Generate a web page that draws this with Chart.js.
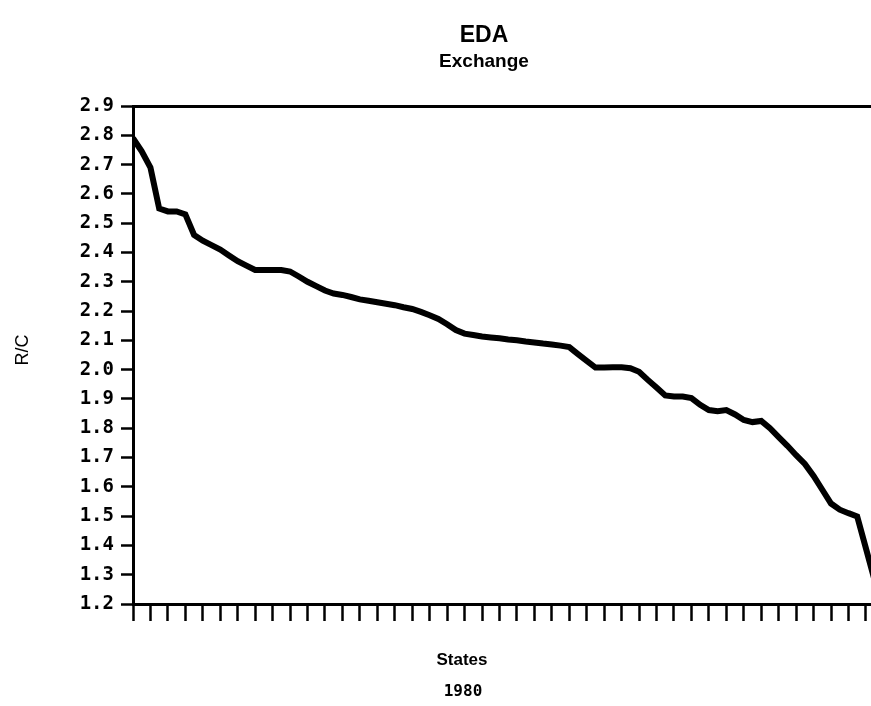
<!DOCTYPE html>
<html lang="en">
<head>
    <meta charset="UTF-8">
    <title>EDA Exchange R/C by State, 1980</title>
    <script src="https://cdn.jsdelivr.net/npm/chart.js"></script>
    <style>
        html, body { margin: 0; padding: 0; background: #fff; }
        canvas { display: block; }
    </style>
</head>
<body>
<canvas id="rcChart" width="871" height="706"></canvas>
<script>
// R/C ratio, states ranked from highest to lowest
const rcValues = [
    2.79, 2.745, 2.69, 2.55, 2.54, 2.54, 2.53, 2.46, 2.44, 2.425,
    2.41, 2.39, 2.37, 2.355, 2.34, 2.34, 2.34, 2.34, 2.335, 2.318,
    2.30, 2.285, 2.27, 2.26, 2.255, 2.248, 2.24, 2.235, 2.23, 2.225,
    2.22, 2.213, 2.207, 2.197, 2.186, 2.173, 2.155, 2.135, 2.123, 2.118,
    2.113, 2.11, 2.107, 2.103, 2.10, 2.096, 2.093, 2.089, 2.086, 2.082,
    2.077, 2.053, 2.03, 2.007, 2.007, 2.008, 2.008, 2.005, 1.993, 1.965,
    1.939, 1.912, 1.908, 1.908, 1.903, 1.88, 1.862, 1.858, 1.862, 1.847,
    1.828, 1.821, 1.825, 1.80, 1.77, 1.74, 1.708, 1.678, 1.637, 1.59,
    1.543, 1.522, 1.51, 1.499, 1.39, 1.28
];
const rankLabels = rcValues.map((_, i) => i);

const titleLines = ['EDA', 'Exchange'];
const xTitleLines = ['States', '1980'];
const yTitle = 'R/C';

const yMin = 1.2;
const yMax = 2.9;
const yStep = 0.1;

// free-form captions drawn straight onto the canvas
const captions = {
    id: 'captions',
    afterDraw(chart, args, opts) {
        const ctx = chart.ctx;
        ctx.save();
        ctx.fillStyle = '#000';
        ctx.textAlign = 'center';
        ctx.textBaseline = 'middle';
        opts.items.forEach(item => {
            ctx.save();
            ctx.font = item.font;
            ctx.translate(item.x, item.y);
            if (item.rotate) ctx.rotate(item.rotate);
            ctx.fillText(item.text, 0, 0);
            ctx.restore();
        });
        ctx.restore();
    }
};

const sans = "'Liberation Sans', Arial, sans-serif";
const mono = "'DejaVu Sans Mono', monospace";

new Chart(document.getElementById('rcChart'), {
    type: 'line',
    data: {
        labels: rankLabels,
        datasets: [{
            data: rcValues,
            borderColor: '#000',
            borderWidth: 6,
            pointRadius: 0,
            tension: 0,
            fill: false
        }]
    },
    plugins: [captions],
    options: {
        responsive: false,
        animation: false,
        layout: {padding: {top: 106, right: 0, bottom: 0, left: 0}},
        plugins: {
            legend: {display: false},
            tooltip: {enabled: false},
            captions: {
                items: [
                    {text: titleLines[0], x: 484, y: 36, font: 'bold 23px ' + sans},
                    {text: titleLines[1], x: 484, y: 62, font: 'bold 19px ' + sans},
                    {text: xTitleLines[0], x: 462, y: 660, font: 'bold 17px ' + sans},
                    {text: xTitleLines[1], x: 463, y: 692, font: 'bold 16px ' + mono},
                    {text: yTitle, x: 23, y: 350, font: '18px ' + sans, rotate: -Math.PI / 2}
                ]
            }
        },
        scales: {
            x: {
                type: 'linear',
                bounds: 'data',
                min: 0,
                max: 84.58,
                afterFit: scale => { scale.height = 102; },
                ticks: {display: false, stepSize: 2, includeBounds: false},
                grid: {
                    drawOnChartArea: false,
                    drawTicks: true,
                    tickLength: 17,
                    tickWidth: 2.5,
                    color: '#000'
                },
                border: {display: true, color: '#000', width: 3}
            },
            y: {
                min: yMin,
                max: yMax,
                afterFit: scale => { scale.width = 133; },
                ticks: {
                    stepSize: yStep,
                    autoSkip: false,
                    padding: 7,
                    color: '#000',
                    font: {family: 'DejaVu Sans Mono', weight: 'bold', size: 19},
                    callback: v => v.toFixed(1)
                },
                grid: {
                    // only the top rule runs across the plot
                    color: ctx => (ctx.tick && ctx.tick.value > yMax - yStep / 2) ? '#000' : 'rgba(0,0,0,0)',
                    tickColor: '#000',
                    lineWidth: 3,
                    tickWidth: 2.5,
                    tickLength: 12,
                    drawTicks: true
                },
                border: {display: true, color: '#000', width: 3}
            }
        }
    }
});
</script>
</body>
</html>
